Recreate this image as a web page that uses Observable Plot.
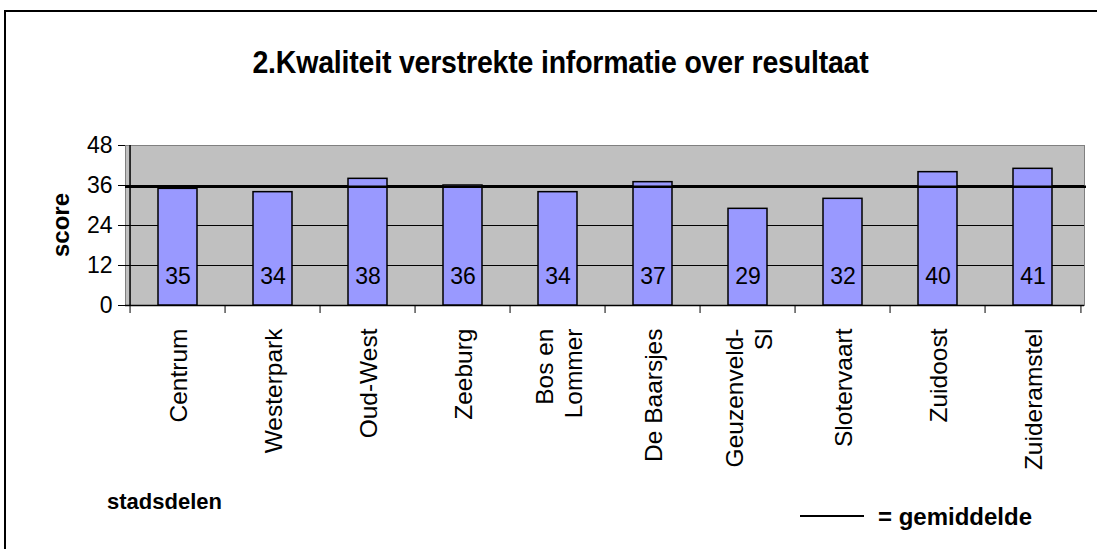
<!DOCTYPE html>
<html>
<head>
<meta charset="utf-8">
<script src="https://cdn.jsdelivr.net/npm/d3@7"></script>
<script src="https://cdn.jsdelivr.net/npm/@observablehq/plot@0.6"></script>
<style>
  html, body { margin: 0; padding: 0; background: #fff; width: 1097px; height: 549px; overflow: hidden; }
  body { position: relative; font-family: "Liberation Sans", Arial, sans-serif; }
  .border { position: absolute; left: 4px; top: 10px; width: 1200px; height: 700px; border: 2px solid #000; box-sizing: border-box; }
  .abs { position: absolute; white-space: nowrap; color: #000; line-height: 1; }
  #title { left: 0; width: 1121px; text-align: center; top: 62px; transform: translateY(-50%) scaleY(1.1); font-size: 28.5px; font-weight: bold; letter-spacing: -0.2px; }
  #ylabel { left: 61px; top: 225px; transform: translate(-50%, -50%) rotate(-90deg); font-size: 24px; font-weight: bold; }
  #xlabel { left: 107px; top: 502px; transform: translateY(-50%); font-size: 22px; font-weight: bold; }
  #legline { position: absolute; left: 800px; top: 515px; width: 64px; height: 2px; background: #000; }
  #legtext { left: 878px; top: 517px; transform: translateY(-50%); font-size: 24px; font-weight: bold; }
  #chart { position: absolute; left: 0; top: 135px; }
</style>
</head>
<body>
<div class="border"></div>
<div class="abs" id="title">2.Kwaliteit verstrekte informatie over resultaat</div>
<div class="abs" id="ylabel">score</div>
<div class="abs" id="xlabel">stadsdelen</div>
<div id="legline"></div>
<div class="abs" id="legtext">= gemiddelde</div>
<div id="chart"></div>
<script>
// Data
const districts = ["Centrum", "Westerpark", "Oud-West", "Zeeburg", "Bos en\nLommer", "De Baarsjes", "Geuzenveld-\nSl", "Slotervaart", "Zuidoost", "Zuideramstel"];
const scores = [35, 34, 38, 36, 34, 37, 29, 32, 40, 41];
const average = 35.6;
const yTicks = [0, 12, 24, 36, 48];
const gridTicks = [12, 24, 36];

const table = districts.map((name, i) => ({name, value: scores[i]}));

const W = 1097, ML = 125, MR = 13;
const step = (W - ML - MR) / districts.length;

const plot = Plot.plot({
  width: W,
  height: 340,
  marginLeft: ML,
  marginRight: MR,
  marginTop: 10,
  marginBottom: 170,
  style: {fontFamily: "'Liberation Sans', Arial, sans-serif", background: "transparent", overflow: "visible"},
  x: {domain: districts, paddingInner: 0.59, paddingOuter: 0.295, axis: null},
  y: {domain: [0, 48], axis: null},
  marks: [
    Plot.frame({fill: "#c0c0c0", stroke: "#808080"}),
    Plot.ruleY(gridTicks, {stroke: "#000", strokeWidth: 1}),
    Plot.ruleY([0], {stroke: "#000", strokeWidth: 1.5}),
    Plot.axisY({ticks: yTicks, tickSize: 7, tickPadding: 6, fontSize: 23, tickFormat: d => String(d), label: null, stroke: "#000"}),
    // left axis line
    Plot.ruleX([districts[0]], {x: d => d, dx: -step / 2, y1: 0, y2: 48, stroke: "#000", strokeWidth: 1.5}),
    // x ticks at category boundaries
    Plot.ruleX(districts, {x: d => d, dx: -step / 2, y1: 0, y2: 0, insetTop: 8, stroke: "#000"}),
    Plot.ruleX([districts[districts.length - 1]], {x: d => d, dx: step / 2, y1: 0, y2: 0, insetTop: 8, stroke: "#000"}),
    Plot.barY(table, {x: "name", y: "value", fill: "#9999ff", stroke: "#000", strokeWidth: 1.5}),
    Plot.ruleY([average], {stroke: "#000", strokeWidth: 2.5, insetRight: -2}),
    Plot.text(table, {x: "name", y: 0, text: d => String(d.value), dy: -29, fontSize: 23, fill: "#000"}),
    Plot.text(districts, {x: d => d, y: 0, text: d => d, rotate: -90, textAnchor: "end", dy: 23, fontSize: 24.5, fill: "#000", lineHeight: 1.2})
  ]
});
document.getElementById("chart").appendChild(plot);
</script>
</body>
</html>
